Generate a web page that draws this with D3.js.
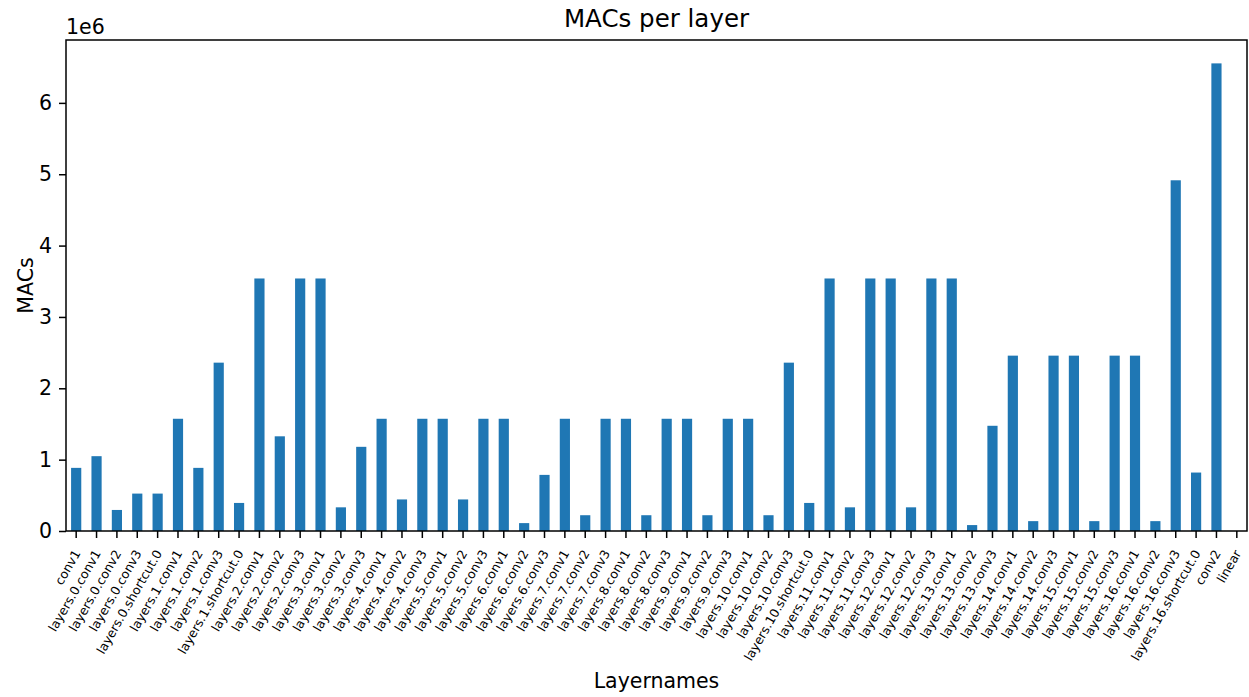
<!DOCTYPE html>
<html>
<head>
<meta charset="utf-8">
<script src="https://cdn.jsdelivr.net/npm/d3@7"></script>
<style>
  body { margin: 0; background: #fff; }
  svg text { font-family: "DejaVu Sans", sans-serif; fill: #000; }
</style>
</head>
<body>
<svg id="chart" width="1249" height="697"></svg>
<script>
// layer names, in the order shown on the x axis
let layerNames = [
  "conv1",
  "layers.0.conv1", "layers.0.conv2", "layers.0.conv3", "layers.0.shortcut.0",
  "layers.1.conv1", "layers.1.conv2", "layers.1.conv3", "layers.1.shortcut.0",
  "layers.2.conv1", "layers.2.conv2", "layers.2.conv3",
  "layers.3.conv1", "layers.3.conv2", "layers.3.conv3",
  "layers.4.conv1", "layers.4.conv2", "layers.4.conv3",
  "layers.5.conv1", "layers.5.conv2", "layers.5.conv3",
  "layers.6.conv1", "layers.6.conv2", "layers.6.conv3",
  "layers.7.conv1", "layers.7.conv2", "layers.7.conv3",
  "layers.8.conv1", "layers.8.conv2", "layers.8.conv3",
  "layers.9.conv1", "layers.9.conv2", "layers.9.conv3",
  "layers.10.conv1", "layers.10.conv2", "layers.10.conv3", "layers.10.shortcut.0",
  "layers.11.conv1", "layers.11.conv2", "layers.11.conv3",
  "layers.12.conv1", "layers.12.conv2", "layers.12.conv3",
  "layers.13.conv1", "layers.13.conv2", "layers.13.conv3",
  "layers.14.conv1", "layers.14.conv2", "layers.14.conv3",
  "layers.15.conv1", "layers.15.conv2", "layers.15.conv3",
  "layers.16.conv1", "layers.16.conv2", "layers.16.conv3", "layers.16.shortcut.0",
  "conv2", "linear"
];

// MACs per layer
let macs = [
  884736,
  1048576, 294912, 524288, 524288,
  1572864, 884736, 2359296, 393216,
  3538944, 1327104, 3538944,
  3538944, 331776, 1179648,
  1572864, 442368, 1572864,
  1572864, 442368, 1572864,
  1572864, 110592, 786432,
  1572864, 221184, 1572864,
  1572864, 221184, 1572864,
  1572864, 221184, 1572864,
  1572864, 221184, 2359296, 393216,
  3538944, 331776, 3538944,
  3538944, 331776, 3538944,
  3538944, 82944, 1474560,
  2457600, 138240, 2457600,
  2457600, 138240, 2457600,
  2457600, 138240, 4915200, 819200,
  6553600, 0
];

let yTicks = [0, 1e6, 2e6, 3e6, 4e6, 5e6, 6e6];

let margin = {top: 40, right: 2, bottom: 166, left: 66};
let width = 1249 - margin.left - margin.right;
let height = 697 - margin.top - margin.bottom;

let svg = d3.select("#chart");
let g = svg.append("g")
    .attr("transform", "translate(" + margin.left + "," + margin.top + ")");

let x = d3.scaleBand()
    .domain(layerNames)
    .range([0, width])
    .paddingInner(0.5)
    .paddingOuter(0.25);

let y = d3.scaleLinear()
    .domain([0, d3.max(macs) * 1.05])
    .range([height, 0]);

g.selectAll("rect.bar")
    .data(layerNames)
    .enter()
    .append("rect")
    .attr("class", "bar")
    .attr("x", function(d) { return x(d); })
    .attr("width", x.bandwidth())
    .attr("y", function(d, i) { return y(macs[i]); })
    .attr("height", function(d, i) { return height - y(macs[i]); })
    .style("fill", "#1f77b4");

// y axis
let yAxis = g.append("g")
    .call(d3.axisLeft(y).tickValues(yTicks).tickSize(7).tickPadding(7)
        .tickFormat(function(d) { return d / 1e6; }));
yAxis.select(".domain").remove();
yAxis.selectAll("line").attr("stroke", "#000").attr("stroke-width", 1.5);
yAxis.selectAll("text").style("font-size", "20.5px");

// x axis
let xAxis = g.append("g")
    .attr("transform", "translate(0," + height + ")")
    .call(d3.axisBottom(x).tickSize(7).tickSizeOuter(0));
xAxis.select(".domain").remove();
xAxis.selectAll("line").attr("stroke", "#000").attr("stroke-width", 1.5);
xAxis.selectAll("text")
    .style("font-size", "12.5px")
    .attr("text-anchor", "end")
    .attr("y", 0)
    .attr("dy", "0.35em")
    .attr("transform", "translate(1,20) rotate(-60)");

// frame
g.append("rect")
    .attr("width", width)
    .attr("height", height)
    .style("fill", "none")
    .style("stroke", "#000")
    .style("stroke-width", 1.5);

// labels
svg.append("text")
    .attr("x", margin.left + width / 2)
    .attr("y", 27)
    .attr("text-anchor", "middle")
    .style("font-size", "24.5px")
    .text("MACs per layer");

svg.append("text")
    .attr("x", margin.left)
    .attr("y", 34)
    .style("font-size", "20.5px")
    .text("1e6");

svg.append("text")
    .attr("transform", "translate(33," + (margin.top + height / 2) + ") rotate(-90)")
    .attr("text-anchor", "middle")
    .style("font-size", "20.5px")
    .text("MACs");

svg.append("text")
    .attr("x", margin.left + width / 2)
    .attr("y", 688)
    .attr("text-anchor", "middle")
    .style("font-size", "20.5px")
    .text("Layernames");
</script>
</body>
</html>
